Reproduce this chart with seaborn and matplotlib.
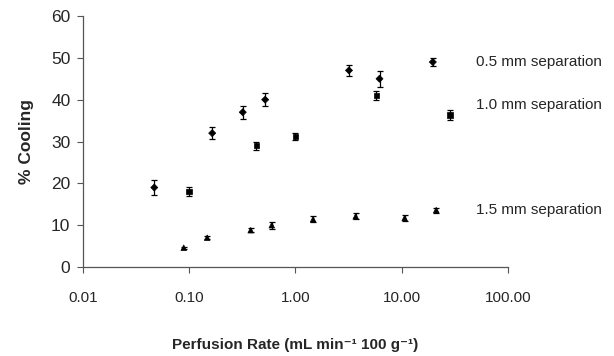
import numpy as np
import pandas as pd
import matplotlib.pyplot as plt
import seaborn as sns

sns.set_theme(style="ticks")
plt.rcParams["font.family"] = ["Liberation Sans", "DejaVu Sans"]

# ── Data ──────────────────────────────────────────────────────────────
rate_05 = [0.047, 0.165, 0.32, 0.52, 3.2, 6.2, 19.7]
cool_05 = [19.0, 32.0, 37.0, 40.0, 47.0, 45.0, 49.0]
err_05 = [1.7, 1.5, 1.5, 1.5, 1.3, 1.9, 1.0]

rate_10 = [0.10, 0.43, 1.0, 5.8, 28.6]
cool_10 = [18.0, 29.0, 31.2, 41.0, 36.3]
err_10 = [1.1, 1.0, 0.9, 1.0, 1.2]

rate_15 = [0.089, 0.148, 0.38, 0.60, 1.47, 3.7, 10.7, 21.2]
cool_15 = [4.6, 7.0, 8.8, 10.0, 11.4, 12.1, 11.7, 13.6]
err_15 = [0.3, 0.4, 0.5, 0.8, 0.7, 0.7, 0.7, 0.6]

series_labels = ["0.5 mm separation", "1.0 mm separation", "1.5 mm separation"]
label_y = [49.0, 38.8, 13.6]

df = pd.concat([
    pd.DataFrame({"rate": rate_05, "cool": cool_05, "err": err_05, "sep": series_labels[0]}),
    pd.DataFrame({"rate": rate_10, "cool": cool_10, "err": err_10, "sep": series_labels[1]}),
    pd.DataFrame({"rate": rate_15, "cool": cool_15, "err": err_15, "sep": series_labels[2]}),
])

fig = plt.figure(figsize=(6.14, 3.56), dpi=100)
ax = fig.add_axes([0.135, 0.25, 0.692, 0.705])

for sep in series_labels:
    d = df[df["sep"] == sep]
    ax.errorbar(d["rate"], d["cool"], yerr=d["err"], fmt="none",
                ecolor="black", elinewidth=0.9, capsize=2.5, capthick=0.9, zorder=2)

sns.scatterplot(data=df, x="rate", y="cool", style="sep", markers=["D", "s", "^"],
                size="sep", sizes={series_labels[0]: 13, series_labels[1]: 16,
                                   series_labels[2]: 16},
                color="black", edgecolor="black", linewidth=0.5,
                legend=False, ax=ax, zorder=3)

ax.set_xscale("log")
ax.set_xlim(0.01, 100)
ax.set_ylim(0, 60)
ax.set_yticks(range(0, 61, 10))
ax.set_xticks([0.01, 0.1, 1, 10, 100])
ax.set_xticklabels(["0.01", "0.10", "1.00", "10.00", "100.00"])
ax.minorticks_off()
ax.tick_params(axis="both", length=4, width=0.8, color="#555555")
ax.tick_params(axis="y", labelsize=12.5, pad=5)
ax.tick_params(axis="x", labelsize=11, pad=13)

for s in ["top", "right"]:
    ax.spines[s].set_visible(False)
for s in ["left", "bottom"]:
    ax.spines[s].set_color("#555555")
    ax.spines[s].set_linewidth(0.9)

ax.set_xlabel("Perfusion Rate (mL min\u207b\u00b9 100 g\u207b\u00b9)",
              fontsize=11, fontweight="bold", labelpad=24)
ax.set_ylabel("% Cooling", fontsize=12.5, fontweight="bold", labelpad=12)

for lab, y in zip(series_labels, label_y):
    ax.text(50, y, lab, fontsize=11, va="center", ha="left", clip_on=False)

fig.savefig("out.png", dpi=100)
